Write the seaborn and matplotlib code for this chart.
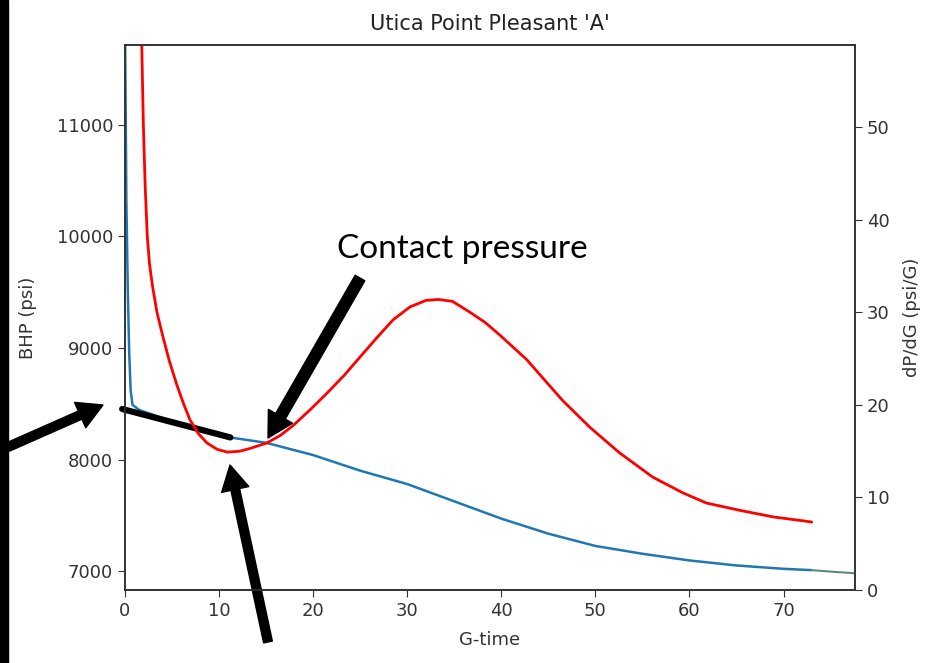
import matplotlib
matplotlib.use("Agg")
import matplotlib.pyplot as plt
import seaborn as sns
import pandas as pd
from matplotlib.patches import Rectangle

# Data
g_bhp = [0.0, 0.15, 0.3, 0.45, 0.6, 0.8, 1.5, 3, 5, 8, 11, 15, 20, 25, 30,
         35, 40, 45, 50, 55, 60, 65, 70, 73]
bhp = [11900, 10300, 9500, 8950, 8620, 8490, 8445, 8400, 8335, 8262, 8200,
       8150, 8040, 7900, 7780, 7625, 7470, 7335, 7225, 7155, 7095, 7050,
       7020, 7008]
g_tail = [73, 75, 77.6]
bhp_tail = [7008, 6995, 6980]

g_deriv = [1.7, 1.78, 1.95, 2.15, 2.37, 2.6, 2.9, 3.4, 4.0, 4.7, 5.5, 6.2,
           6.9, 7.8, 8.7, 9.8, 10.9, 12.2, 13.3, 15.1, 16.5, 17.9, 19.7,
           21.5, 23.3, 25.0, 26.8, 28.5, 30.3, 32.0, 33.3, 34.8, 36.7, 38.3,
           39.9, 42.7, 44.6, 46.5, 49.4, 52.6, 56.1, 59.3, 61.8, 65.4, 68.9,
           73.0]
dpdg = [64, 59, 50.3, 43.5, 38.2, 35.3, 33.0, 30.0, 27.5, 24.8, 22.2, 20.2,
        18.4, 16.9, 15.9, 15.2, 14.9, 15.0, 15.3, 15.9, 16.7, 17.8, 19.5,
        21.3, 23.2, 25.2, 27.3, 29.2, 30.6, 31.3, 31.4, 31.2, 30.0, 28.9,
        27.5, 24.9, 22.7, 20.5, 17.6, 14.8, 12.2, 10.5, 9.4, 8.6, 7.9, 7.35]

bhp_ticks = [7000, 8000, 9000, 10000, 11000]
dpdg_ticks = [0, 10, 20, 30, 40, 50]
g_ticks = [0, 10, 20, 30, 40, 50, 60, 70]

df_bhp = pd.DataFrame({"G": g_bhp, "BHP": bhp})
df_tail = pd.DataFrame({"G": g_tail, "BHP": bhp_tail})
df_der = pd.DataFrame({"G": g_deriv, "dPdG": dpdg})

sns.set_style("ticks")
plt.rcParams["font.family"] = ["DejaVu Sans"]

fig = plt.figure(figsize=(9.41, 6.63), dpi=100)
ax = fig.add_axes([125 / 941, 1 - 590 / 663, 730 / 941, 545 / 663])

sns.lineplot(data=df_bhp, x="G", y="BHP", ax=ax, color="#1f77b4", lw=1.8)
sns.lineplot(data=df_tail, x="G", y="BHP", ax=ax, color="#5f8a74", lw=1.5)
ax.set_xlim(0, 77.6)
ax.set_ylim(6830, 11717)
ax.set_xticks(g_ticks)
ax.set_yticks(bhp_ticks)
ax.set_xlabel("G-time", fontsize=13, color="#333333", labelpad=8)
ax.set_ylabel("BHP (psi)", fontsize=13, color="#333333", labelpad=14)
ax.set_title("Utica Point Pleasant 'A'", fontsize=15, color="#222222", pad=11)
ax.tick_params(labelsize=13, colors="#333333", length=5)

ax2 = ax.twinx()
sns.lineplot(data=df_der, x="G", y="dPdG", ax=ax2, color="red", lw=2)
ax2.set_ylim(0, 58.9)
ax2.set_yticks(dpdg_ticks)
ax2.set_ylabel("dP/dG (psi/G)", fontsize=13, color="#333333", labelpad=10)
ax2.tick_params(labelsize=13, colors="#333333", length=5)

for a in (ax, ax2):
    for s in a.spines.values():
        s.set_color("#333333")
        s.set_linewidth(1.2)

# tangent line over the early-time BHP
ax.annotate("", xy=(11.2, 8198), xytext=(-0.3, 8453), xycoords="data",
            annotation_clip=False,
            arrowprops=dict(arrowstyle="-", lw=4.5, color="black",
                            shrinkA=0, shrinkB=0))

arrow = dict(arrowstyle="simple,head_length=0.9,head_width=1.0,tail_width=0.32",
             mutation_scale=20, color="black", shrinkA=0, shrinkB=0)
arrow_wide = dict(arrowstyle="simple,head_length=0.9,head_width=1.0,tail_width=0.4",
                  mutation_scale=20, color="black", shrinkA=0, shrinkB=0)
ax.annotate("", xy=(103, 258), xytext=(8, 216), xycoords="figure pixels",
            arrowprops=arrow)
ax.annotate("", xy=(268, 225), xytext=(360, 385), xycoords="figure pixels",
            arrowprops=arrow_wide)
ax.annotate("", xy=(230, 198), xytext=(268, 21), xycoords="figure pixels",
            arrowprops=arrow)
fig.text(337 / 941, 405 / 663, "Contact pressure", fontsize=24, color="black",
         family=["Lato", "DejaVu Sans"], ha="left", va="baseline")

# black band at the left edge
fig.patches.append(Rectangle((0, 0), 8 / 941, 1, transform=fig.transFigure,
                             color="black", zorder=10))

fig.savefig("out.png", dpi=100)
